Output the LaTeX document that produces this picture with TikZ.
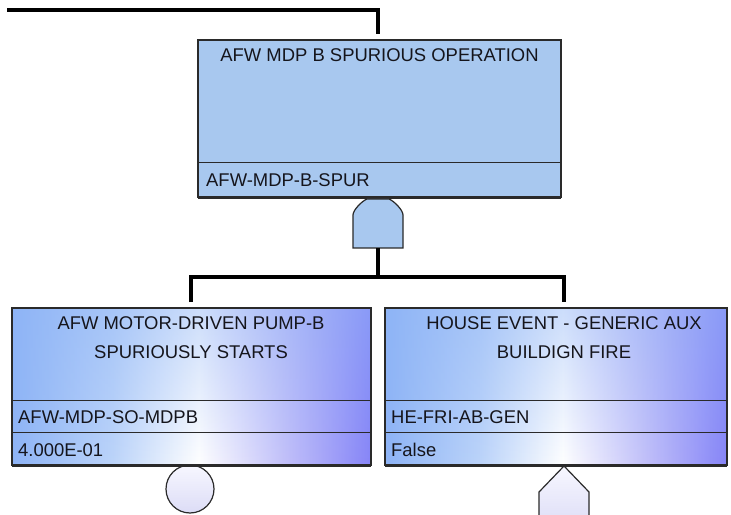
\documentclass[tikz,border=0pt]{standalone}
\usepackage{fontspec}
\setmainfont{Liberation Sans}
\usetikzlibrary{fadings,calc}
\definecolor{topfill}{HTML}{A8C8EF}
\definecolor{evleft}{HTML}{8EB4F6}
\definecolor{evmidl}{HTML}{BCD4FA}
\definecolor{evmidr}{HTML}{C2C0FA}
\definecolor{evright}{HTML}{8684F8}
\definecolor{edgec}{HTML}{2A2A2A}
\definecolor{txtc}{HTML}{15151C}
\definecolor{symlight}{HTML}{F7F7FF}
\definecolor{symdark}{HTML}{DCDCF6}
% TikZ maps a path's bounding box onto the 25bp..75bp band of a shading
\pgfdeclarehorizontalshading{evshade}{100bp}{color(0bp)=(evleft); color(25bp)=(evleft); color(39bp)=(evmidl); color(51bp)=(white); color(63bp)=(evmidr); color(75bp)=(evright); color(100bp)=(evright)}
\tikzfading[name=topfade, top color=transparent!55, middle color=transparent!92, bottom color=transparent!100]
\tikzset{
  boxbase/.style={draw=edgec, line width=1.2bp, anchor=north west, inner sep=0pt, outer sep=0pt},
  topbox/.style={boxbase, fill=topfill},
  evbox/.style={boxbase, shade, shading=evshade,
    path picture={\fill[evleft, path fading=topfade] (path picture bounding box.north west) rectangle (path picture bounding box.south east);}},
  divider/.style={draw=edgec, line width=1bp},
  thickbottom/.style={draw=edgec, line width=3bp},
  conn/.style={draw=black, line width=4bp},
  ttl/.style={font=\fontsize{18.5}{29}\selectfont, text=txtc, align=center, inner sep=0pt},
  idtxt/.style={font=\fontsize{18.5}{22}\selectfont, text=txtc, anchor=west, inner sep=0pt},
  gatestyle/.style={draw=edgec, line width=1.2bp, fill=topfill},
  symstyle/.style={draw=edgec, line width=1.2bp, top color=symlight, bottom color=symdark},
}
\begin{document}
\begin{tikzpicture}[x=1bp, y=-1bp]
\useasboundingbox (0,0) rectangle (731,515);
\clip (0,0) rectangle (731,515);

% top event box
\node[topbox, minimum width=363bp, minimum height=157bp] (top) at (198,40) {};
\draw[divider] (198,163) -- (561,163);
\draw[thickbottom] (top.south west) -- (top.south east);
\node[ttl] (ttop) at (379.5,55) {AFW MDP B SPURIOUS OPERATION};
\node[idtxt] (idtop) at (206,180) {AFW-MDP-B-SPUR};

% AND gate
\draw[gatestyle] (353,248) -- (353,215) .. controls (353,210) and (362,201) .. (367,199) -- (389,199) .. controls (394,201) and (403,210) .. (403,215) -- (403,248) -- cycle;
\coordinate (gateout) at (378,248);

% incoming line
\coordinate (instart) at (7,10);
\coordinate (inend) at (378,34);
\draw[conn] (instart) -| (inend);

% left event box
\node[evbox, minimum width=359bp, minimum height=157bp] (lbox) at (12,308) {};
\draw[divider] (12,400) -- (371,400);
\draw[divider] (12,432) -- (371,432);
\node[ttl] (tl) at (191,338) {AFW MOTOR-DRIVEN PUMP-B\\SPURIOUSLY STARTS};
\node[idtxt] (idl) at (18,417) {AFW-MDP-SO-MDPB};
\node[idtxt] (pl) at (18,450) {4.000E-01};

% right event box
\node[evbox, minimum width=342bp, minimum height=157bp] (rbox) at (385,308) {};
\draw[divider] (385,400) -- (727,400);
\draw[divider] (385,432) -- (727,432);
\node[ttl] (tr) at (564,338) {HOUSE EVENT - GENERIC AUX\\BUILDIGN FIRE};
\node[idtxt] (idr) at (391,417) {HE-FRI-AB-GEN};
\node[idtxt] (pr) at (391,450) {False};

% connectors from gate to children
\coordinate (bar) at (378,277);
\coordinate (lin) at (191,302);
\coordinate (rin) at (564,302);
\draw[conn] (gateout) -- (bar);
\draw[conn, line join=miter] (lin) |- (bar) -| (rin);

% basic event circle
\node[symstyle, circle, minimum size=48bp, inner sep=0pt] (bec) at (190,489) {};
\draw[thickbottom] (lbox.south west) -- (lbox.south east);

% house event symbol
\draw[symstyle] (564,466) -- (589,492) -- (589,530) -- (539,530) -- (539,492) -- cycle;
\draw[thickbottom] (rbox.south west) -- (rbox.south east);
\end{tikzpicture}
\end{document}
